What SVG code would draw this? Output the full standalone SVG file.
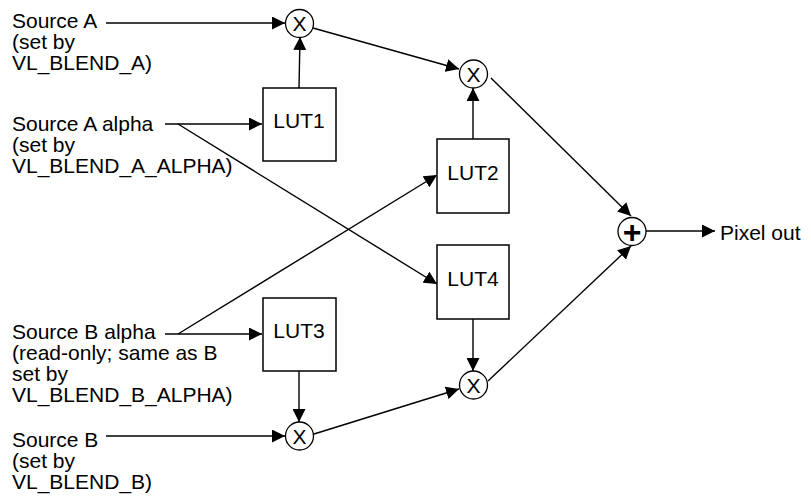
<svg xmlns="http://www.w3.org/2000/svg" width="811" height="496" viewBox="0 0 811 496">
  <style>
    .lbl { font-family: "Liberation Sans", Arial, sans-serif; font-size: 21px; fill: #000; }
    .lut { font-family: "Liberation Sans", Arial, sans-serif; font-size: 21px; fill: #000; text-anchor: middle; }
    .op { font-family: "Liberation Sans", Arial, sans-serif; font-size: 21px; fill: #000; text-anchor: middle; }
    .plus { font-family: "Liberation Sans", Arial, sans-serif; font-size: 32px; font-weight: bold; fill: #000; text-anchor: middle; }
    .box { fill: #fff; stroke: #000; stroke-width: 1.5; }
    .ring { fill: #fff; stroke: #000; stroke-width: 1.3; }
    .wire { fill: none; stroke: #000; stroke-width: 1.4; marker-end: url(#arrow); }
  </style>
  <defs>
    <marker id="arrow" markerUnits="userSpaceOnUse" markerWidth="14" markerHeight="13" refX="13" refY="6.5" orient="auto">
      <path d="M0,0 L13,6.5 L0,13 z" fill="#000"/>
    </marker>
  </defs>
  <rect width="811" height="496" fill="#fff"/>

  <!-- connectors -->
  <g id="connectors">
    <line class="wire" x1="106" y1="23" x2="285" y2="23"/>
    <line class="wire" x1="299" y1="88" x2="300" y2="37"/>
    <line class="wire" x1="313" y1="28" x2="459" y2="69"/>
    <line class="wire" x1="473" y1="139" x2="473" y2="88"/>
    <line class="wire" x1="491" y1="78" x2="631" y2="216"/>
    <line class="wire" x1="165" y1="124" x2="262" y2="124"/>
    <line class="wire" x1="178" y1="124" x2="437" y2="284"/>
    <line class="wire" x1="165" y1="334" x2="262" y2="334"/>
    <line class="wire" x1="178" y1="334" x2="437" y2="175"/>
    <line class="wire" x1="299" y1="371" x2="299" y2="422"/>
    <line class="wire" x1="106" y1="436" x2="285" y2="436"/>
    <line class="wire" x1="314" y1="434" x2="459" y2="389"/>
    <line class="wire" x1="473" y1="319" x2="473" y2="371"/>
    <line class="wire" x1="488" y1="381" x2="631" y2="246"/>
    <line class="wire" x1="646" y1="231" x2="715" y2="231"/>
  </g>

  <!-- input labels -->
  <g id="srcA">
    <text class="lbl" x="12" y="28">Source A</text>
    <text class="lbl" x="12" y="49">(set by</text>
    <text class="lbl" x="12" y="70">VL_BLEND_A)</text>
  </g>
  <g id="srcAalpha">
    <text class="lbl" x="12" y="131">Source A alpha</text>
    <text class="lbl" x="12" y="152">(set by</text>
    <text class="lbl" x="12" y="173">VL_BLEND_A_ALPHA)</text>
  </g>
  <g id="srcBalpha">
    <text class="lbl" x="12" y="339">Source B alpha</text>
    <text class="lbl" x="12" y="360">(read-only; same as B</text>
    <text class="lbl" x="12" y="381">set by</text>
    <text class="lbl" x="12" y="402">VL_BLEND_B_ALPHA)</text>
  </g>
  <g id="srcB">
    <text class="lbl" x="12" y="447">Source B</text>
    <text class="lbl" x="12" y="468">(set by</text>
    <text class="lbl" x="12" y="489">VL_BLEND_B)</text>
  </g>

  <!-- lookup tables -->
  <g id="lut1">
    <rect class="box" x="263" y="88" width="73" height="73"/>
    <text class="lut" x="299" y="128">LUT1</text>
  </g>
  <g id="lut2">
    <rect class="box" x="437" y="139" width="72" height="74"/>
    <text class="lut" x="473" y="180">LUT2</text>
  </g>
  <g id="lut3">
    <rect class="box" x="263" y="298" width="73" height="73"/>
    <text class="lut" x="299" y="338">LUT3</text>
  </g>
  <g id="lut4">
    <rect class="box" x="437" y="245" width="72" height="74"/>
    <text class="lut" x="473" y="286">LUT4</text>
  </g>

  <!-- multipliers -->
  <g id="mulA">
    <circle class="ring" cx="299.5" cy="23.5" r="14"/>
    <text class="op" x="299.5" y="31">X</text>
  </g>
  <g id="mulTop">
    <circle class="ring" cx="473.5" cy="74" r="14"/>
    <text class="op" x="473.5" y="81.5">X</text>
  </g>
  <g id="mulB">
    <circle class="ring" cx="299.5" cy="436" r="14"/>
    <text class="op" x="299.5" y="443.5">X</text>
  </g>
  <g id="mulBottom">
    <circle class="ring" cx="473.5" cy="385" r="14"/>
    <text class="op" x="473.5" y="392.5">X</text>
  </g>

  <!-- adder and output -->
  <g id="adder">
    <circle class="ring" cx="632" cy="231.5" r="14"/>
    <text class="plus" x="632" y="242.5">+</text>
  </g>
  <g id="out">
    <text class="lbl" x="720" y="240">Pixel out</text>
  </g>
</svg>
